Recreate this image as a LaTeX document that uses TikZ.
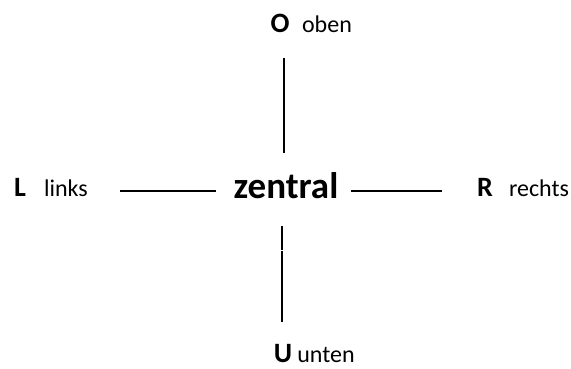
\documentclass[tikz,border=0pt]{standalone}
\usepackage{fontspec}
\setmainfont{Carlito}
\begin{document}
\begin{tikzpicture}[x=1pt,y=-1pt,
  bigl/.style={font=\fontsize{28}{32}\selectfont\bfseries, anchor=base, inner sep=0pt},
  smalll/.style={font=\fontsize{24}{28}\selectfont, anchor=base, inner sep=0pt},
  centerl/.style={font=\fontsize{37}{44}\selectfont\bfseries, anchor=base, inner sep=0pt},
  conn/.style={line width=1.7pt, black}]
\useasboundingbox (0,0) rectangle (571,368);
\node[centerl] (zentral) at (286,198) {zentral};
\node[bigl] (O) at (280,32) {O};
\node[smalll] (oben) at (327,32) {oben};
\node[bigl] (L) at (20,196) {L};
\node[smalll] (links) at (66,196) {links};
\node[bigl] (R) at (485,196) {R};
\node[smalll] (rechts) at (539,196) {rechts};
\node[bigl] (U) at (283,362) {U};
\node[smalll] (unten) at (326,362) {unten};
\coordinate (t1) at (284,58);
\coordinate (t2) at (284,153);
\coordinate (l1) at (120,191);
\coordinate (l2) at (216,191);
\coordinate (r1) at (351,191);
\coordinate (r2) at (442,191);
\coordinate (b1) at (282,226);
\coordinate (b2) at (282,250);
\coordinate (b3) at (282,251);
\coordinate (b4) at (282,322);
\draw[conn] (t1) -- (t2);
\draw[conn] (l1) -- (l2);
\draw[conn] (r1) -- (r2);
\draw[conn] (b1) -- (b2);
\draw[conn] (b3) -- (b4);
\end{tikzpicture}
\end{document}
